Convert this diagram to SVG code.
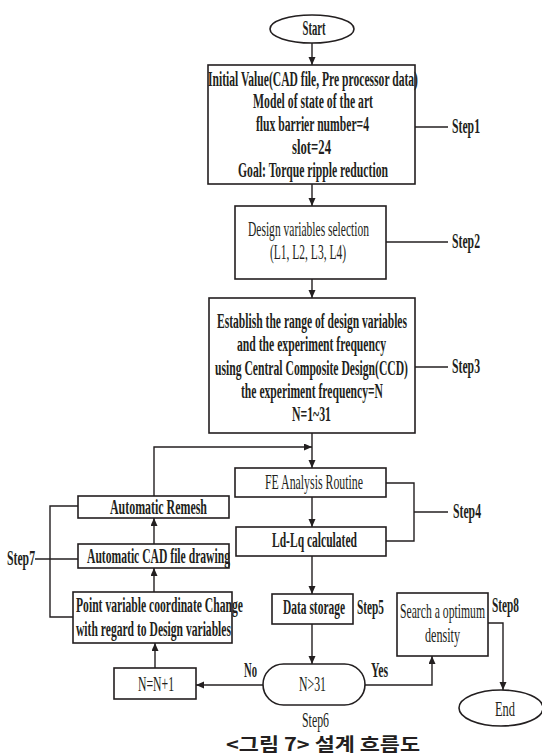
<svg xmlns="http://www.w3.org/2000/svg" width="542" height="755" viewBox="0 0 542 755">
<style>
.b{fill:#fff;stroke:#231f20;stroke-width:1.6}
.c{fill:none;stroke:#231f20;stroke-width:1.4}
text{font-family:"Liberation Serif","Times New Roman",serif;font-size:20px;fill:#231f20}
.bd{font-weight:bold}
.m{text-anchor:middle}
.cap{font-family:"Noto Sans CJK KR","Noto Sans",sans-serif;font-weight:bold;font-size:18px}
</style>
<defs>
<marker id="ah" markerUnits="userSpaceOnUse" markerWidth="9" markerHeight="8" refX="8" refY="3.5" orient="auto">
<path d="M0,0 L8,3.5 L0,7 z" fill="#231f20"/>
</marker>
</defs>
<rect width="542" height="755" fill="#fff"/>
<g id="connectors">
<line class="c" x1="312" y1="43" x2="312" y2="65" marker-end="url(#ah)"/>
<line class="c" x1="312" y1="184" x2="312" y2="206" marker-end="url(#ah)"/>
<line class="c" x1="312" y1="279" x2="312" y2="298" marker-end="url(#ah)"/>
<line class="c" x1="312" y1="433" x2="312" y2="468" marker-end="url(#ah)"/>
<path class="c" d="M154,496 V447 H312" marker-end="url(#ah)"/>
<line class="c" x1="312" y1="497" x2="312" y2="527" marker-end="url(#ah)"/>
<line class="c" x1="312" y1="556" x2="312" y2="594" marker-end="url(#ah)"/>
<line class="c" x1="312" y1="624" x2="312" y2="664" marker-end="url(#ah)"/>
<line class="c" x1="263" y1="685" x2="196" y2="685" marker-end="url(#ah)"/>
<line class="c" x1="155" y1="668" x2="155" y2="643" marker-end="url(#ah)"/>
<line class="c" x1="154" y1="592" x2="154" y2="568" marker-end="url(#ah)"/>
<line class="c" x1="154" y1="544" x2="154" y2="518" marker-end="url(#ah)"/>
<path class="c" d="M365,685 H432 V656" marker-end="url(#ah)"/>
<path class="c" d="M488,623 H503 V690" marker-end="url(#ah)"/>
<line class="c" x1="415" y1="127" x2="448" y2="127"/>
<line class="c" x1="386" y1="242" x2="448" y2="242"/>
<line class="c" x1="415" y1="367" x2="448" y2="367"/>
<path class="c" d="M386,483 H414 V541 H386"/>
<line class="c" x1="414" y1="512" x2="448" y2="512"/>
<path class="c" d="M78,506 H50 V617 H73"/>
<line class="c" x1="35" y1="559" x2="78" y2="559"/>
</g>
<g id="start">
<ellipse class="b" cx="312" cy="29" rx="42" ry="14"/>
<text class="bd m" transform="scale(0.58,1)" x="541.38" y="35" textLength="39.66" lengthAdjust="spacingAndGlyphs">Start</text>
</g>
<g id="step1">
<rect class="b" x="208" y="65" width="207" height="119"/>
<text class="bd m" transform="scale(0.58,1)" x="539.66" y="86" textLength="362.07" lengthAdjust="spacingAndGlyphs">Initial Value(CAD file, Pre processor data)</text>
<text class="bd m" transform="scale(0.58,1)" x="539.66" y="108" textLength="206.9" lengthAdjust="spacingAndGlyphs">Model of state of the art</text>
<text class="bd m" transform="scale(0.58,1)" x="538.79" y="131" textLength="194.83" lengthAdjust="spacingAndGlyphs">flux barrier number=4</text>
<text class="bd m" transform="scale(0.58,1)" x="537.07" y="154" textLength="67.24" lengthAdjust="spacingAndGlyphs">slot=24</text>
<text class="bd m" transform="scale(0.58,1)" x="539.66" y="177" textLength="258.62" lengthAdjust="spacingAndGlyphs">Goal: Torque ripple reduction</text>
<text class="bd" transform="scale(0.58,1)" x="779.31" y="133" textLength="48.28" lengthAdjust="spacingAndGlyphs">Step1</text>
</g>
<g id="step2">
<rect class="b" x="235" y="206" width="151" height="73"/>
<text class="m" transform="scale(0.58,1)" x="531.9" y="236" textLength="208.62" lengthAdjust="spacingAndGlyphs">Design variables selection</text>
<text class="m" transform="scale(0.58,1)" x="531.03" y="259" textLength="131.03" lengthAdjust="spacingAndGlyphs">(L1, L2, L3, L4)</text>
<text class="bd" transform="scale(0.58,1)" x="779.31" y="248" textLength="48.28" lengthAdjust="spacingAndGlyphs">Step2</text>
</g>
<g id="step3">
<rect class="b" x="209" y="298" width="206" height="135"/>
<text class="bd m" transform="scale(0.58,1)" x="537.93" y="328" textLength="327.59" lengthAdjust="spacingAndGlyphs">Establish the range of design variables</text>
<text class="bd m" transform="scale(0.58,1)" x="537.07" y="351" textLength="256.9" lengthAdjust="spacingAndGlyphs">and the experiment frequency</text>
<text class="bd m" transform="scale(0.58,1)" x="537.07" y="375" textLength="332.76" lengthAdjust="spacingAndGlyphs">using Central Composite Design(CCD)</text>
<text class="bd m" transform="scale(0.58,1)" x="537.93" y="398" textLength="244.83" lengthAdjust="spacingAndGlyphs">the experiment frequency=N</text>
<text class="bd m" transform="scale(0.58,1)" x="537.07" y="421" textLength="67.24" lengthAdjust="spacingAndGlyphs">N=1~31</text>
<text class="bd" transform="scale(0.58,1)" x="779.31" y="373" textLength="48.28" lengthAdjust="spacingAndGlyphs">Step3</text>
</g>
<g id="fe">
<rect class="b" x="235" y="468" width="151" height="29"/>
<text class="m" transform="scale(0.58,1)" x="541.38" y="489" textLength="168.97" lengthAdjust="spacingAndGlyphs">FE Analysis Routine</text>
</g>
<g id="ldlq">
<rect class="b" x="236" y="527" width="150" height="29"/>
<text class="bd m" transform="scale(0.58,1)" x="542.24" y="547" textLength="146.55" lengthAdjust="spacingAndGlyphs">Ld-Lq calculated</text>
<text class="bd" transform="scale(0.58,1)" x="781.03" y="518" textLength="48.28" lengthAdjust="spacingAndGlyphs">Step4</text>
</g>
<g id="storage">
<rect class="b" x="272" y="594" width="81" height="30"/>
<text class="bd m" transform="scale(0.58,1)" x="541.38" y="614" textLength="106.9" lengthAdjust="spacingAndGlyphs">Data storage</text>
<text class="bd" transform="scale(0.58,1)" x="615.52" y="614" textLength="46.55" lengthAdjust="spacingAndGlyphs">Step5</text>
</g>
<g id="search">
<rect class="b" x="397" y="593" width="91" height="63"/>
<text class="m" transform="scale(0.58,1)" x="762.93" y="618" textLength="146.55" lengthAdjust="spacingAndGlyphs">Search a optimum</text>
<text class="m" transform="scale(0.58,1)" x="762.93" y="642" textLength="60.34" lengthAdjust="spacingAndGlyphs">density</text>
<text class="bd" transform="scale(0.58,1)" x="848.28" y="612" textLength="46.55" lengthAdjust="spacingAndGlyphs">Step8</text>
</g>
<g id="end">
<ellipse class="b" cx="501" cy="708" rx="42" ry="18"/>
<text class="m" transform="scale(0.58,1)" x="870.69" y="716" textLength="34.48" lengthAdjust="spacingAndGlyphs">End</text>
</g>
<g id="decision">
<rect class="b" x="263" y="664" width="102" height="41" rx="20.5" ry="20.5"/>
<text class="m" transform="scale(0.58,1)" x="538.79" y="691" textLength="46.55" lengthAdjust="spacingAndGlyphs">N&gt;31</text>
<text class="bd m" transform="scale(0.58,1)" x="431.9" y="677" textLength="22.41" lengthAdjust="spacingAndGlyphs">No</text>
<text class="bd m" transform="scale(0.58,1)" x="654.31" y="677" textLength="29.31" lengthAdjust="spacingAndGlyphs">Yes</text>
<text class="m" transform="scale(0.58,1)" x="543.97" y="727" textLength="46.55" lengthAdjust="spacingAndGlyphs">Step6</text>
</g>
<g id="increment">
<rect class="b" x="114" y="668" width="82" height="31"/>
<text class="m" transform="scale(0.58,1)" x="268.97" y="691" textLength="62.07" lengthAdjust="spacingAndGlyphs">N=N+1</text>
</g>
<g id="point">
<rect class="b" x="73" y="592" width="159" height="51"/>
<text class="bd m" transform="scale(0.58,1)" x="275" y="612" textLength="287.93" lengthAdjust="spacingAndGlyphs">Point variable coordinate Change</text>
<text class="bd m" transform="scale(0.58,1)" x="264.66" y="636" textLength="267.24" lengthAdjust="spacingAndGlyphs">with regard to Design variables</text>
</g>
<g id="cad">
<rect class="b" x="78" y="544" width="151" height="24"/>
<text class="bd m" transform="scale(0.58,1)" x="273.28" y="563" textLength="246.55" lengthAdjust="spacingAndGlyphs">Automatic CAD file drawing</text>
</g>
<g id="remesh">
<rect class="b" x="78" y="496" width="151" height="22"/>
<text class="bd m" transform="scale(0.58,1)" x="273.28" y="514" textLength="167.24" lengthAdjust="spacingAndGlyphs">Automatic Remesh</text>
<text class="bd" transform="scale(0.58,1)" x="12.07" y="565" textLength="48.28" lengthAdjust="spacingAndGlyphs">Step7</text>
</g>
<g id="caption">
<text class="cap m" x="323" y="751" textLength="194" lengthAdjust="spacingAndGlyphs">&lt;그림 7&gt; 설계 흐름도</text>
</g>
</svg>
